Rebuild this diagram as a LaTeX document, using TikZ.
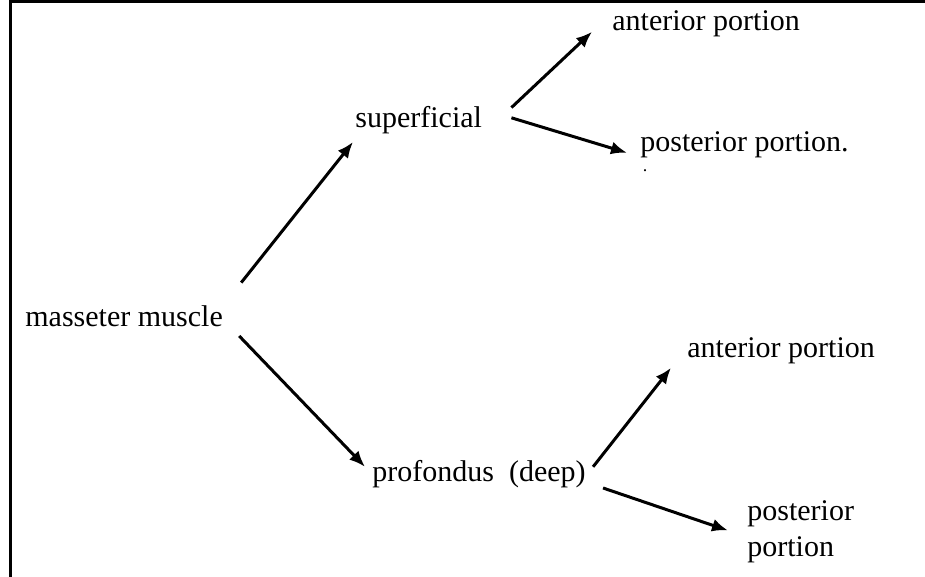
\documentclass[tikz,border=0pt]{standalone}
\usepackage{fontspec}
\setmainfont{Liberation Serif}
\usepackage{tikz}
\usetikzlibrary{calc, arrows.meta}

\tikzset{
	lbl/.style={inner sep=0, anchor=base west, font=\fontsize{15}{18}\selectfont},
	onerow/.style={lbl, text height=10.5pt, text depth=3.3pt},
	arr/.style={line width=1.5pt, -{Latex[length=8pt, width=6.5pt]}},
	frame/.style={line width=1.5pt}
}

\begin{document}
\begin{tikzpicture}[x=0.5pt, y=-0.5pt]
				\useasboundingbox (0, 0) rectangle (925, 577);
				\draw[frame] (925, 2) -- (10, 2) -- (10, 577);
				
				\node[onerow] (masseter) at (25, 326) {masseter muscle};
				\node[onerow] (superficial) at (355, 128) {superficial};
				\node[onerow] (profondus) at (372, 481) {profondus~ (deep)};
				\node[onerow] (antsup) at (612, 31) {anterior portion};
				\node[onerow] (postsup) at (640, 152) {posterior portion.};
				\node[lbl, anchor=base, font=\fontsize{9}{10}\selectfont] (stray) at (645, 172) {.};
				\node[onerow] (antdeep) at (687, 357) {anterior portion};
				\node[lbl, align=left, anchor=north west] (postdeep) at (747, 500) {posterior\\portion};
				
				\draw[arr] ($(masseter.north east)+(18, -22)$) -- ($(superficial.south west)+(-2, 7)$);
				\draw[arr] ($(masseter.south east)+(16, 3)$) -- ($(profondus.west)+(-7, -7)$);
				\draw[arr] ($(superficial.north east)+(29, 1)$) -- ($(antsup.west)+(-20, 8)$);
				\draw[arr] ($(superficial.east)+(29, -3)$) -- ($(postsup.west)+(-13, 8)$);
				\draw[arr] ($(profondus.east)+(7, -7)$) -- ($(antdeep.west)+(-16, 18)$);
				\draw[arr] ($(profondus.south east)+(17, 0)$) -- ($(postdeep.west)+(-19, -1)$);
			\end{tikzpicture}
\end{document}
